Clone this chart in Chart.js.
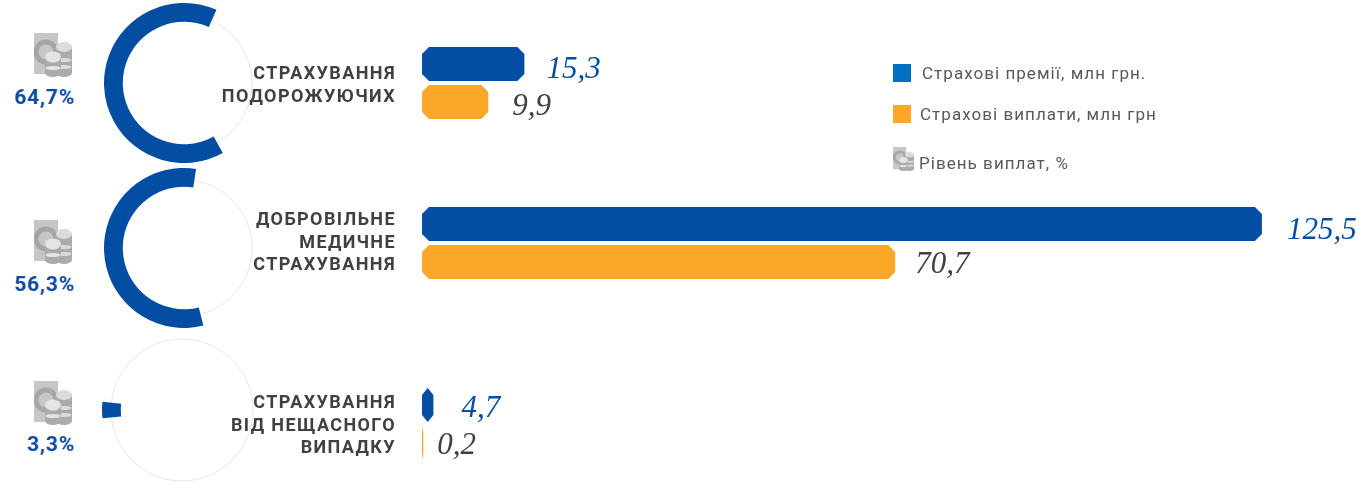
<!DOCTYPE html>
<html lang="uk">
<head>
<meta charset="utf-8">
<title>Страхування</title>
<script src="https://cdn.jsdelivr.net/npm/chart.js@4"></script>
<style>
    html, body { margin: 0; padding: 0; background: #fff; }
    body { position: relative; width: 1363px; height: 488px; overflow: hidden; font-family: Roboto, sans-serif; }
    canvas, .pct, .icon, .legend-row { position: absolute; }
    .pct { right: 1288px; color: #0b4ea2; font: 700 21px Roboto, sans-serif; letter-spacing: .8px; white-space: nowrap; }
    .legend-row { color: #595959; font-size: 17px; letter-spacing: 1.04px; white-space: nowrap; }
    .swatch { position: absolute; width: 18px; height: 18px; }
</style>
</head>
<body>
<svg width="0" height="0" style="position:absolute">
    <symbol id="coins" viewBox="0 0 38 44">
        <rect x="0" y="0" width="24" height="41" fill="#c6c6c6"/>
        <circle cx="12" cy="19" r="10" fill="none" stroke="#a6a6a6" stroke-width="5"/>
        <g fill="#ababab">
            <rect x="22" y="13" width="16" height="27" />
            <ellipse cx="30" cy="40" rx="8" ry="4"/>
        </g>
        <g fill="#dcdcdc">
            <ellipse cx="30" cy="27" rx="7.5" ry="2"/>
            <ellipse cx="30" cy="34" rx="7.5" ry="2"/>
            <ellipse cx="30" cy="14" rx="8" ry="5"/>
        </g>
        <g fill="#ababab">
            <rect x="11" y="24" width="16" height="16"/>
            <ellipse cx="19" cy="40" rx="8" ry="4"/>
        </g>
        <g fill="#e4e4e4">
            <ellipse cx="19" cy="35" rx="7.5" ry="2"/>
            <ellipse cx="19" cy="24" rx="8" ry="5.5"/>
        </g>
    </symbol>
</svg>
<script>
// ── Data ──────────────────────────────────────────────────────────────────────
const categories = [
    ['СТРАХУВАННЯ', 'ПОДОРОЖУЮЧИХ'],
    ['ДОБРОВІЛЬНЕ', 'МЕДИЧНЕ', 'СТРАХУВАННЯ'],
    ['СТРАХУВАННЯ', 'ВІД НЕЩАСНОГО', 'ВИПАДКУ'],
];
// bar lengths as drawn; the source's 4,7 bar is drawn much shorter than its printed value
const premiums = [15.3, 125.5, 1.7];
const claims = [9.9, 70.7, 0.2];
const premiumLabels = ['15,3', '125,5', '4,7'];
const claimLabels = ['9,9', '70,7', '0,2'];
const payoutRates = [64.7, 56.3, 3.3];
const payoutLabels = ['64,7%', '56,3%', '3,3%'];
const legendLabels = ['Страхові премії, млн грн.', 'Страхові виплати, млн грн', 'Рівень виплат, %'];

// ── Look ──────────────────────────────────────────────────────────────────────
const BLUE = '#034ea2';
const ORANGE = '#fca727';
const TEXT = '#404040';
const X_MAX = 140.6;

const barTops = [45, 205, 386];
const ringBoxes = [{ left: 104, top: 3 }, { left: 104, top: 168 }, { left: 102, top: 330 }];
const ringRotations = [151, 166, 264];
const trackRadius = [68, 68, 71];
const iconTops = [33, 220, 381];
const pctTops = [85, 272, 432];
const premiumPads = [22, 25, 28];
const claimPads = [24, 20, 14];
const premiumRaise = [6, 7, 4];
const claimRaise = [5, 3, 3];
const nameShift = [3, 0, 2];

// Bars in the source have cut corners
Chart.BarElement.prototype.draw = function (ctx) {
    const { x, y, base, height } = this.getProps(['x', 'y', 'base', 'height']);
    const l = Math.min(base, x), r = Math.max(base, x);
    const top = y - height / 2, bottom = y + height / 2;
    const c = Math.min(7, (r - l) / 2);
    ctx.save();
    ctx.fillStyle = this.options.backgroundColor;
    ctx.beginPath();
    ctx.moveTo(l + c, top);
    ctx.lineTo(r - c, top);
    ctx.lineTo(r, top + 7);
    ctx.lineTo(r, bottom - 7);
    ctx.lineTo(r - c, bottom);
    ctx.lineTo(l + c, bottom);
    ctx.lineTo(l, bottom - 7);
    ctx.lineTo(l, top + 7);
    ctx.closePath();
    ctx.fill();
    ctx.restore();
};

const barText = {
    id: 'barText',
    afterDatasetsDraw(chart, args, opts) {
        const ctx = chart.ctx;
        ctx.save();
        ctx.font = 'italic 31px "Liberation Serif", serif';
        ctx.textBaseline = 'middle';
        chart.data.datasets.forEach((ds, i) => {
            const bar = chart.getDatasetMeta(i).data[0];
            ctx.fillStyle = i === 0 ? BLUE : TEXT;
            ctx.fillText(opts.texts[i], bar.x + opts.pads[i], bar.y + opts.raise[i]);
        });

        // category name, right aligned left of the bars
        const lines = chart.data.labels[0];
        const midY = chart.scales.y.getPixelForTick(0) + opts.nameShift;
        ctx.font = '700 18px Roboto, sans-serif';
        ctx.letterSpacing = '1.4px';
        ctx.textAlign = 'right';
        ctx.fillStyle = TEXT;
        lines.forEach((line, n) => {
            ctx.fillText(line, chart.chartArea.left - 26, midY + (n - (lines.length - 1) / 2) * 22.5);
        });
        ctx.restore();
    }
};

const ringTrack = {
    id: 'ringTrack',
    beforeDatasetsDraw(chart, args, opts) {
        const arc = chart.getDatasetMeta(0).data[0];
        const ctx = chart.ctx;
        ctx.save();
        ctx.strokeStyle = '#e6e6e6';
        ctx.lineWidth = 1;
        ctx.beginPath();
        ctx.arc(arc.x, arc.y, opts.radius, 0, Math.PI * 2);
        ctx.stroke();
        ctx.restore();
    }
};

function addCanvas(left, top, width, height) {
    const canvas = document.createElement('canvas');
    canvas.width = width;
    canvas.height = height;
    canvas.style.left = left + 'px';
    canvas.style.top = top + 'px';
    document.body.appendChild(canvas);
    return canvas;
}

// ── Rings ─────────────────────────────────────────────────────────────────────
function renderRing(i) {
    new Chart(addCanvas(ringBoxes[i].left, ringBoxes[i].top, 160, 160), {
        type: 'doughnut',
        data: {
            datasets: [{
                data: [payoutRates[i], 100 - payoutRates[i]],
                backgroundColor: [BLUE, 'rgba(0,0,0,0)'],
                borderWidth: 0,
            }]
        },
        options: {
            responsive: false,
            animation: false,
            cutout: '76.5%',
            rotation: ringRotations[i],
            plugins: {
                legend: { display: false },
                tooltip: { enabled: false },
                ringTrack: { radius: trackRadius[i] },
            }
        },
        plugins: [ringTrack]
    });
}

// ── Bars ──────────────────────────────────────────────────────────────────────
function renderBars(i) {
    new Chart(addCanvas(200, barTops[i], 1163, 76), {
        type: 'bar',
        data: {
            labels: [categories[i]],
            datasets: [
                { data: [premiums[i]], backgroundColor: BLUE },
                { data: [claims[i]], backgroundColor: ORANGE },
            ]
        },
        options: {
            indexAxis: 'y',
            responsive: false,
            animation: false,
            layout: { padding: { left: 222 } },
            datasets: { bar: { categoryPercentage: 1, barPercentage: 34 / 38 } },
            scales: {
                x: { display: false, min: 0, max: X_MAX },
                y: { display: false },
            },
            plugins: {
                legend: { display: false },
                tooltip: { enabled: false },
                barText: {
                    texts: [premiumLabels[i], claimLabels[i]],
                    pads: [premiumPads[i], claimPads[i]],
                    raise: [premiumRaise[i], claimRaise[i]],
                    nameShift: nameShift[i],
                },
            }
        },
        plugins: [barText]
    });
}

function addIcon(left, top, width, height) {
    const ns = 'http://www.w3.org/2000/svg';
    const svg = document.createElementNS(ns, 'svg');
    svg.setAttribute('class', 'icon');
    svg.setAttribute('width', width);
    svg.setAttribute('height', height);
    svg.style.left = left + 'px';
    svg.style.top = top + 'px';
    const use = document.createElementNS(ns, 'use');
    use.setAttribute('href', '#coins');
    svg.appendChild(use);
    use.setAttribute('width', width);
    use.setAttribute('height', height);
    document.body.appendChild(svg);
}

function addText(cls, text, left, top) {
    const el = document.createElement('div');
    el.className = cls;
    el.textContent = text;
    if (left !== null) el.style.left = left + 'px';
    el.style.top = top + 'px';
    document.body.appendChild(el);
}

function addSwatch(left, top, color) {
    const el = document.createElement('div');
    el.className = 'swatch';
    el.style.left = left + 'px';
    el.style.top = top + 'px';
    el.style.background = color;
    document.body.appendChild(el);
}

categories.forEach((c, i) => {
    renderRing(i);
    renderBars(i);
    addIcon(34, iconTops[i], 38, 44);
    addText('pct', payoutLabels[i], null, pctTops[i]);
});

// ── Legend ────────────────────────────────────────────────────────────────────
addSwatch(893, 64, '#0070c0');
addSwatch(893, 105, ORANGE);
addIcon(893, 147, 21, 24);
addText('legend-row', legendLabels[0], 922, 63);
addText('legend-row', legendLabels[1], 920, 104);
addText('legend-row', legendLabels[2], 919, 153);
</script>
</body>
</html>
